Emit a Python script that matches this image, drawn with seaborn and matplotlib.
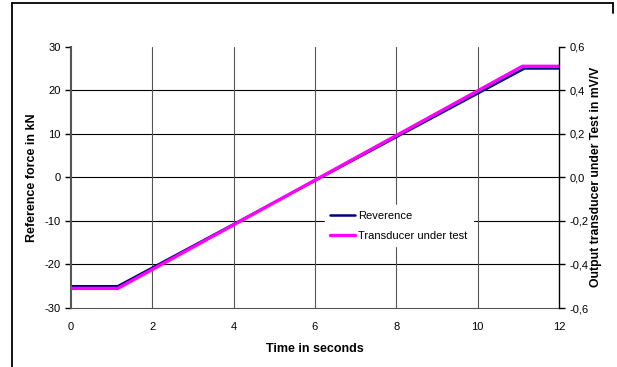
import seaborn as sns
import pandas as pd
import matplotlib.pyplot as plt
from matplotlib.lines import Line2D

# breakpoints of the ramp
ref_time = [0, 1.15, 11.15, 12]
ref_force = [-25, -25, 25, 25]          # kN, left axis
dut_time = [0, 1.15, 11.1, 12]
dut_output = [-0.51, -0.51, 0.51, 0.51]  # mV/V, right axis

ref_df = pd.DataFrame({'t': ref_time, 'v': ref_force})
dut_df = pd.DataFrame({'t': dut_time, 'v': dut_output})

sns.set_style('white')
plt.rcParams['font.family'] = ['Liberation Sans', 'DejaVu Sans']
plt.rcParams['axes.unicode_minus'] = False
plt.rcParams['text.color'] = 'black'
plt.rcParams['axes.labelcolor'] = 'black'

fig = plt.figure(figsize=(6.17, 3.67), dpi=100)
ax = fig.add_axes([71/617, 1-308/367, 488/617, 261.3/367])
ax2 = ax.twinx()

# frame round the chart (only top and left edges are visible)
fx, fy = 11.5/617, 1-3/367
fig.lines.append(Line2D([fx, fx], [0, fy], transform=fig.transFigure, color='black', linewidth=1.3))
fig.lines.append(Line2D([fx, 613/617], [fy, fy], transform=fig.transFigure, color='black', linewidth=1.3))
fig.lines.append(Line2D([613/617, 613/617], [fy, fy-10/367], transform=fig.transFigure, color='black', linewidth=1.3))

sns.lineplot(data=ref_df, x='t', y='v', ax=ax, color='#000080', linewidth=1.8, label='Reverence', legend=False)
sns.lineplot(data=dut_df, x='t', y='v', ax=ax2, color='#FF00FF', linewidth=2.4, label='Transducer under test', legend=False)

ax.set_xlim(0, 12)
ax.set_ylim(-30, 30)
ax2.set_ylim(-0.6, 0.6)
ax.set_xticks(range(0, 13, 2))
ax.set_yticks(range(-30, 31, 10))
ax2.set_yticks([-0.6, -0.4, -0.2, 0.0, 0.2, 0.4, 0.6])
ax2.set_yticklabels(['-0,6', '-0,4', '-0,2', '0,0', '0,2', '0,4', '0,6'])

for y in range(-20, 30, 10):
    ax.axhline(y, color='black', linewidth=0.8, zorder=0)
for x in range(2, 12, 2):
    ax.axvline(x, color='#555555', linewidth=0.8, zorder=0)

ax.spines['top'].set_visible(False)
ax2.spines['top'].set_visible(False)
ax2.spines['bottom'].set_visible(False)
ax.spines['bottom'].set_color('#555555')
ax.spines['bottom'].set_linewidth(0.8)
ax.spines['right'].set_visible(False)
ax2.spines['left'].set_visible(False)
ax.spines['left'].set_color('#555555')
ax.spines['left'].set_linewidth(1.5)
ax2.spines['right'].set_color('black')
ax2.spines['right'].set_linewidth(1)

ax.tick_params(axis='y', direction='out', length=4, width=1, colors='black', labelsize=8, left=True)
ax.tick_params(axis='x', length=0, labelsize=8, pad=10, colors='black')
ax2.tick_params(axis='y', direction='out', length=4, width=1, colors='black', labelsize=8, right=True)

ax.set_xlabel('Time in seconds', fontsize=9, fontweight='bold', labelpad=8)
ax.set_ylabel('Reference force in kN', fontsize=9, fontweight='bold', labelpad=5)
ax2.set_ylabel('Output transducer under Test in mV/V', fontsize=8.8, fontweight='bold', labelpad=1)

h1, l1 = ax.get_legend_handles_labels()
h2, l2 = ax2.get_legend_handles_labels()
leg = ax2.legend(h1 + h2, l1 + l2, loc='center', bbox_to_anchor=(0.672, 0.315), frameon=True,
                 fontsize=8, handlelength=2.2, handletextpad=0.3, fancybox=False,
                 labelspacing=0.9, borderpad=0.5)
leg.get_frame().set_edgecolor('white')
leg.get_frame().set_facecolor('white')
leg.get_frame().set_alpha(1)

fig.savefig('out.png', dpi=100)
